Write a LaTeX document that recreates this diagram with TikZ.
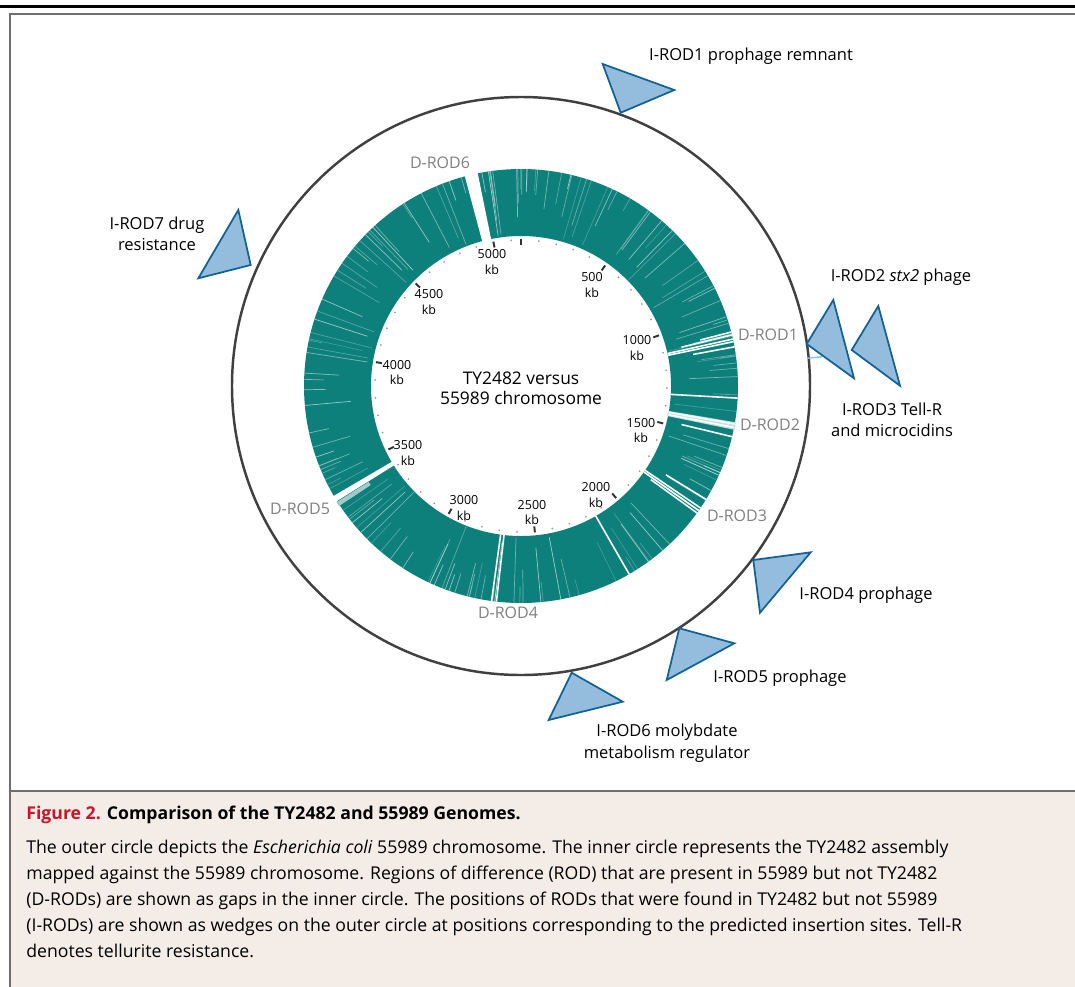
\documentclass[tikz,border=0pt]{standalone}
\usepackage{fontspec}
\setmainfont{Open Sans}
\usetikzlibrary{positioning}
\definecolor{ringteal}{RGB}{14,128,124}
\definecolor{wedgefill}{RGB}{148,189,221}
\definecolor{wedgeline}{RGB}{18,98,150}
\definecolor{rodgray}{RGB}{128,128,128}
\definecolor{capbg}{RGB}{243,236,231}
\definecolor{figred}{RGB}{204,20,40}
\definecolor{framegray}{RGB}{110,110,110}

\tikzset{
  wedge/.style={draw=wedgeline, fill=wedgefill, line width=1pt},
  irod/.style={align=center, inner sep=0pt, font=\fontsize{9.4}{12.2}\selectfont},
  drod/.style={text=rodgray, inner sep=0pt, font=\fontsize{9.1}{11}\selectfont},
  kblabel/.style={align=center, inner sep=0pt, font=\fontsize{7.1}{8.8}\selectfont},
  streak/.style={white, line width=0.4pt},
}

\begin{document}
\begin{tikzpicture}[x=0.02cm, y=0.02cm]
  \useasboundingbox (0,0) rectangle (1075,-987);

  % frame and caption box
  \fill[capbg] (10,-791) rectangle (1075,-987);
  \draw[line width=1.8pt] (0,-6.5) -- (1075,-6.5);
  \draw[framegray, line width=1.1pt] (10,-987) -- (10,-14) -- (1075,-14);
  \draw[framegray, line width=1.4pt] (10,-791) -- (1075,-791);

  % chromosome, centred on the circle
  \begin{scope}[shift={(521,-386)}]
    \coordinate (ctr) at (0,0);
    \draw[black!75, line width=1.4pt] (ctr) circle[radius=289];
    \fill[ringteal, even odd rule] (ctr) circle[radius=217] (ctr) circle[radius=150];

    % thin streaks in the ring
    \pgfmathsetseed{2482}
    \foreach \i in {1,...,150}{
      \pgfmathsetmacro\ang{90-rnd*360}
      \pgfmathsetmacro\rin{150+rnd*55}
      \pgfmathsetmacro\op{0.2+rnd*0.4}
      \draw[streak, opacity=\op] (\ang:\rin) -- (\ang:217);
    }

    % D-ROD gaps
    \fill[white] (101.5:149) arc[start angle=101.5, end angle=105, radius=149]
      -- (105:218) arc[start angle=105, end angle=101.5, radius=218] -- cycle;
    \fill[white] (-148:149) arc[start angle=-148, end angle=-149.6, radius=149]
      -- (-149.6:218) arc[start angle=-149.6, end angle=-148, radius=218] -- cycle;
    \fill[white!60!ringteal] (-146.6:180) arc[start angle=-146.6, end angle=-147.8, radius=180]
      -- (-147.8:218) arc[start angle=-147.8, end angle=-146.6, radius=218] -- cycle;
    \fill[white!75!ringteal] (-9.6:149) arc[start angle=-9.6, end angle=-11.6, radius=149]
      -- (-11.6:218) arc[start angle=-11.6, end angle=-9.6, radius=218] -- cycle;
    \foreach \ang/\rin in {102.3/150, 102.8/150, 12.5/150, 11.8/150, 13.6/165, 10.4/175,
        14.4/185, -10.1/150, -11.0/150, -34.2/150, -35.0/150, -35.8/160,
        -96.5/150, -97.8/150, -60.1/150, -3.2/150, -13.5/165, -31.5/170}
      \draw[white, line width=0.9pt] (\ang:\rin) -- (\ang:217);

    % scale ticks
    \foreach \k in {0,100,...,5100}
      \fill[black!40] ({90-\k/5155*360}:146) circle[radius=1];
    \foreach \k in {0,500,...,5000}
      \draw[black!80, line width=1.1pt] ({90-\k/5155*360}:141) -- ({90-\k/5155*360}:147);
  \end{scope}

  % scale labels
  \foreach \k/\x/\y in {500/592/285, 1000/637/348, 1500/641/430.5, 2000/596/495,
      2500/532/512.5, 3000/464/508, 3500/408/453, 4000/397/372.5,
      4500/429/302, 5000/492/262}
    \node[kblabel] (kb\k) at (\x,-\y) {\k\\kb};

  \node[align=center, inner sep=0pt, font=\fontsize{9.9}{11.6}\selectfont]
    (title) at (521,-388) {TY2482 versus\\55989 chromosome};

  % D-ROD labels
  \node[drod] (drod1) at (768,-335) {D-ROD1};
  \node[drod] (drod2) at (770,-425) {D-ROD2};
  \node[drod] (drod3) at (737,-516) {D-ROD3};
  \node[drod] (drod4) at (508,-613) {D-ROD4};
  \node[drod] (drod5) at (300,-509) {D-ROD5};
  \node[drod] (drod6) at (440,-163) {D-ROD6};

  % I-ROD wedges
  \draw[wedge] (602.7,-64) -- (674.3,-90) -- (620.7,-112.7) -- cycle;
  \draw[wedgefill, line width=0.8pt] (806.7,-358.3) -- (822,-356.7);
  \draw[wedge] (806.7,-344) -- (833.3,-300) -- (854,-378.3) -- cycle;
  \draw[wedge] (851.7,-350) -- (878.3,-306) -- (900,-385.7) -- cycle;
  \draw[wedge] (753.3,-560) -- (810.7,-552.3) -- (760,-612.7) -- cycle;
  \draw[wedge] (679.3,-628.3) -- (734.3,-643.3) -- (666.7,-680) -- cycle;
  \draw[wedge] (571.7,-672.7) -- (622.7,-701.7) -- (548.7,-720) -- cycle;
  \draw[wedge] (238.3,-210) -- (250.7,-265) -- (198.3,-278.3) -- cycle;

  % I-ROD labels
  \node[irod] (irod1) at (751,-56) {I-ROD1 prophage remnant};
  \node[irod] (irod2) at (901,-277) {I-ROD2 \textit{stx2} phage};
  \node[irod] (irod3) at (892,-420) {I-ROD3 Tell-R\\and microcidins};
  \node[irod] (irod4) at (866,-595) {I-ROD4 prophage};
  \node[irod] (irod5) at (780,-678) {I-ROD5 prophage};
  \node[irod] (irod6) at (667,-743) {I-ROD6 molybdate\\metabolism regulator};
  \node[irod] (irod7) at (157,-234) {I-ROD7 drug\\resistance};

  % caption
  \node[anchor=west, inner sep=0pt, font=\fontsize{10.05}{14.7}\selectfont\bfseries]
    (figcap) at (26,-815) {\textcolor{figred}{Figure 2.} Comparison of the TY2482 and 55989 Genomes.};
  \node[anchor=north west, align=left, inner sep=0pt, font=\fontsize{10.05}{14.74}\selectfont]
    (captext) at (26,-840) {The outer circle depicts the \textit{Escherichia coli} 55989 chromosome. The inner circle represents the TY2482 assembly\\
    mapped against the 55989 chromosome. Regions of difference (ROD) that are present in 55989 but not TY2482\\
    (D-RODs) are shown as gaps in the inner circle. The positions of RODs that were found in TY2482 but not 55989\\
    (I-RODs) are shown as wedges on the outer circle at positions corresponding to the predicted insertion sites. Tell-R\\
    denotes tellurite resistance.};
\end{tikzpicture}
\end{document}
